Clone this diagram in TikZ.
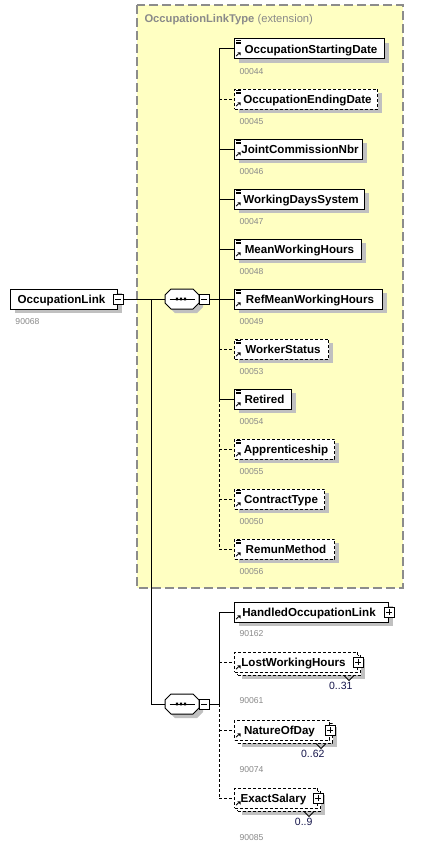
\documentclass[tikz,border=0pt]{standalone}
\usepackage{fontspec}
\setmainfont{Liberation Sans}
\usetikzlibrary{shadows}
\definecolor{ybg}{HTML}{FFFFC2}
\definecolor{bordergray}{HTML}{8C8C8C}
\definecolor{idgray}{HTML}{8A8A8A}
\definecolor{shadowgray}{HTML}{C0C0C0}
\definecolor{cardblue}{HTML}{14144A}
\newcommand{\myelemfont}{\fontsize{11.6}{13}\selectfont\bfseries}
\newcommand{\myidfont}{\fontsize{8.6}{10}\selectfont}
\newcommand{\mycardfont}{\fontsize{10.5}{12}\selectfont}
\newcommand{\mytitlefont}{\fontsize{11.2}{13}\selectfont}
\newcommand{\myicons}[1]{\pic at ([shift={(2,2)}]#1.north west) {linesicon}; \pic at ([shift={(1.5,-8)}]#1.south west) {arrowicon};}
\newcommand{\myarrowonly}[1]{\pic at ([shift={(1.5,-8)}]#1.south west) {arrowicon};}
\begin{document}
\begin{tikzpicture}[x=1pt,y=-1pt,line width=1pt,
  boxbase/.style={draw, fill=white, minimum height=20pt, inner sep=0pt, anchor=west, font=\myelemfont, line width=1pt, text height=8.3pt, text depth=0pt},
  shad/.style={drop shadow={shadow xshift=4pt, shadow yshift=-4pt, fill=shadowgray, opacity=1}},
  elem/.style={boxbase, shad, execute at begin node={\hspace*{3pt}}},
  cplx/.style={boxbase, shad, execute at begin node={\hspace*{4pt}}, execute at end node={\hspace*{9pt}}},
  cplxflat/.style={boxbase, execute at begin node={\hspace*{4pt}}, execute at end node={\hspace*{9pt}}},
  optl/.style={dash pattern=on 3pt off 2pt},
  idlab/.style={anchor=west, font=\myidfont, text=idgray, inner sep=0pt},
  card/.style={anchor=east, font=\mycardfont, text=cardblue, inner sep=0pt},
  pmbox/.style={draw, fill=white, minimum size=10pt, inner sep=0pt, line width=0.8pt},
  minusbox/.style={pmbox, path picture={\draw[line width=0.8pt] ([xshift=2pt]path picture bounding box.west) -- ([xshift=-2pt]path picture bounding box.east);}},
  plusbox/.style={pmbox, path picture={\draw[line width=0.8pt] ([xshift=2pt]path picture bounding box.west) -- ([xshift=-2pt]path picture bounding box.east) ([yshift=-2pt]path picture bounding box.north) -- ([yshift=2pt]path picture bounding box.south);}},
  seqnode/.style={minimum width=34pt, minimum height=20pt, inner sep=0pt},
  notch/.style={line width=0.8pt},
  linesicon/.pic={\draw[line width=0.7pt] (0,0)--(5,0) (0,1.6)--(4.5,1.6) (0,3.2)--(4.5,3.2);},
  arrowicon/.pic={\draw[line width=0.9pt] (0.6,4.6)--(3,2.2); \fill (1.8,0.8)--(5,0.8)--(5,4)--cycle;},
  octo/.pic={
    \fill[shadowgray] (-7,-6) -- (15,-6) -- (21,0) -- (21,8) -- (15,14) -- (-7,14) -- (-13,8) -- (-13,0) -- cycle;
    \draw[fill=white, line width=1pt] (-11,-10) -- (11,-10) -- (17,-4) -- (17,4) -- (11,10) -- (-11,10) -- (-17,4) -- (-17,-4) -- cycle;
    \draw[line width=1pt] (-12.3,0) -- (13,0);
    \fill (-6.2,-1.3) rectangle (-3.8,1.3) (-2.2,-1.3) rectangle (0.2,1.3) (1.8,-1.3) rectangle (4.2,1.3);
  }
]
\useasboundingbox (0,0) rectangle (421,851);
\fill[white] (0,0) rectangle (421,851);

% extension box
\fill[ybg] (137,5) rectangle (403,588);
\draw[bordergray, line width=1.2pt, dash pattern=on 9pt off 4pt] (137,5) rectangle (403,588);
\node[anchor=west, text=idgray, font=\mytitlefont, inner sep=0pt] (title) at (144,20) {\textbf{OccupationLinkType} (extension)};

% root element
\node[cplx, minimum width=107pt] (ol) at (10,299) {OccupationLink};
\node[minusbox] (olm) at (ol.east) {};
\node[idlab] (olid) at (15,322) {90068};

% sequence 1
\node[seqnode] (seq1) at (182,299) {};
\pic at (seq1) {octo};
\node[minusbox] (m1) at (204,299) {};

% sequence 2
\node[seqnode] (seq2) at (182,704) {};
\pic at (seq2) {octo};
\node[minusbox] (m2) at (204,704) {};

% group 1 elements
\node[elem, minimum width=150pt] (n1) at (234,49) {OccupationStartingDate};
\node[elem, optl, minimum width=143pt] (n2) at (234,99) {OccupationEndingDate};
\node[elem, minimum width=128pt] (n3) at (234,149) {JointCommissionNbr};
\node[elem, minimum width=130pt] (n4) at (234,199) {WorkingDaysSystem};
\node[elem, minimum width=127pt] (n5) at (234,249) {MeanWorkingHours};
\node[elem, minimum width=148pt] (n6) at (234,299) {RefMeanWorkingHours};
\node[elem, optl, minimum width=94pt] (n7) at (234,349) {WorkerStatus};
\node[elem, minimum width=57pt] (n8) at (234,399) {Retired};
\node[elem, optl, minimum width=100pt] (n9) at (234,449) {Apprenticeship};
\node[elem, optl, minimum width=90pt] (n10) at (234,499) {ContractType};
\node[elem, optl, minimum width=100pt] (n11) at (234,549) {RemunMethod};
\foreach \n in {n1,n2,n3,n4,n5,n6,n7,n8,n9,n10,n11} {\myicons{\n}}

\node[idlab] (i1) at (239,71.5) {00044};
\node[idlab] (i2) at (239,121.5) {00045};
\node[idlab] (i3) at (239,171.5) {00046};
\node[idlab] (i4) at (239,221.5) {00047};
\node[idlab] (i5) at (239,271.5) {00048};
\node[idlab] (i6) at (239,321.5) {00049};
\node[idlab] (i7) at (239,371.5) {00053};
\node[idlab] (i8) at (239,421.5) {00054};
\node[idlab] (i9) at (239,471.5) {00055};
\node[idlab] (i10) at (239,521.5) {00050};
\node[idlab] (i11) at (239,571.5) {00056};

% group 2 elements
\node[cplx, minimum width=154pt] (h1) at (234,612) {HandledOccupationLink};
\node[plusbox] (h1p) at (h1.east) {};
\myarrowonly{h1}
\node[idlab] (h1id) at (239,633.5) {90162};

\node[cplx, optl, minimum width=123pt] (h2b) at (237,665) {};
\node[cplxflat, optl, minimum width=123pt] (h2) at (234,662) {LostWorkingHours};
\node[plusbox] (h2p) at (h2.east) {};
\myarrowonly{h2}
\draw[notch] ([xshift=-17pt]h2b.south east) -- ++(5,5) -- ++(5,-5);
\node[card] (h2c) at ([shift={(-5,24)}]h2.east) {0..31};
\node[idlab] (h2id) at (239,701) {90061};

\node[cplx, optl, minimum width=95pt] (h3b) at (237,733) {};
\node[cplxflat, optl, minimum width=95pt] (h3) at (234,730) {NatureOfDay};
\node[plusbox] (h3p) at (h3.east) {};
\myarrowonly{h3}
\draw[notch] ([xshift=-17pt]h3b.south east) -- ++(5,5) -- ++(5,-5);
\node[card] (h3c) at ([shift={(-5,24)}]h3.east) {0..62};
\node[idlab] (h3id) at (239,769.3) {90074};

\node[cplx, optl, minimum width=83pt] (h4b) at (237,801) {};
\node[cplxflat, optl, minimum width=83pt] (h4) at (234,798) {ExactSalary};
\node[plusbox] (h4p) at (h4.east) {};
\myarrowonly{h4}
\draw[notch] ([xshift=-17pt]h4b.south east) -- ++(5,5) -- ++(5,-5);
\node[card] (h4c) at ([shift={(-5,24)}]h4.east) {0..9};
\node[idlab] (h4id) at (239,837.3) {90085};

% connectors
\coordinate (j1) at (151,299);
\coordinate (j2) at (151,704);
\draw (olm) -- (seq1);
\draw (j1) -- (j2) -- (seq2);

\coordinate (b1) at (219,49);
\coordinate (b2) at (219,99);
\coordinate (b3) at (219,149);
\coordinate (b4) at (219,199);
\coordinate (b5) at (219,249);
\coordinate (b6) at (219,299);
\coordinate (b7) at (219,349);
\coordinate (b8) at (219,399);
\coordinate (b9) at (219,449);
\coordinate (b10) at (219,499);
\coordinate (b11) at (219,549);
\draw (m1) -- (b6);
\draw (b1) -- (b8);
\draw[optl] (b8) -- (b11);
\foreach \i in {1,3,4,5,6,8} {\draw (b\i) -- (n\i);}
\foreach \i in {2,7,9,10,11} {\draw[optl] (b\i) -- (n\i);}

\coordinate (c1) at (219,612);
\coordinate (c2) at (219,662);
\coordinate (c3) at (219,730);
\coordinate (c4) at (219,798);
\coordinate (cj) at (219,704);
\draw (m2) -- (cj);
\draw (c1) -- (cj);
\draw[optl] (cj) -- (c4);
\draw (c1) -- (h1);
\draw[optl] (c2) -- (h2);
\draw[optl] (c3) -- (h3);
\draw[optl] (c4) -- (h4);
\end{tikzpicture}
\end{document}
